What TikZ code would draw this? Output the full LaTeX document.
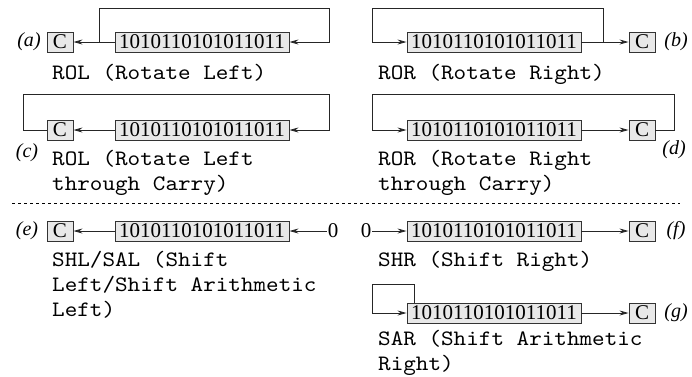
\documentclass[tikz,border=0pt]{standalone}
\usepackage{fontspec}
\setmainfont{Liberation Serif}
\newfontfamily\codefont[FakeStretch=1.09]{lmmono10-regular.otf}
\usetikzlibrary{arrows.meta}

\begin{document}
\begin{tikzpicture}[x=1pt,y=-1pt,
  reg/.style={draw=black!80, fill=black!9, line width=0.9pt,
    minimum width=174pt, minimum height=20pt, inner sep=0pt,
    font=\fontsize{21}{21}\selectfont},
  cbox/.style={reg, minimum width=26pt},
  tag/.style={inner sep=0pt, font=\fontsize{20}{20}\selectfont\itshape},
  zero/.style={inner sep=1pt, font=\fontsize{21}{21}\selectfont},
  % multi-line labels: the base anchor sits on the last line
  lbl/.style={inner sep=0pt, anchor=base west, align=left,
    font=\fontsize{22}{25}\selectfont\codefont},
  wire/.style={line width=0.9pt, draw=black!85},
  flow/.style={wire, -{Stealth[length=9pt,width=5pt]}},
  sep/.style={line width=0.7pt, dash pattern=on 3pt off 3pt},
]
\useasboundingbox (0,0) rectangle (692,376);

% ---- (a) ROL ----
\node[tag]  (ta) at (29,42)  {(a)};
\node[cbox] (ca) at (60,42)  {C};
\node[reg]  (ra) at (202,42) {1010110101011011};
\coordinate (aj)  at (99,42);
\coordinate (atr) at (329,8);
\draw[flow] (ra.west) -- (ca.east);
\draw[flow] (aj) |- (atr) |- (ra.east);
\node[lbl] (la) at (52,79) {ROL (Rotate Left)};

% ---- (b) ROR ----
\node[reg]  (rb) at (494,42) {1010110101011011};
\node[cbox] (cb) at (642,42) {C};
\node[tag]  (tb) at (676,42) {(b)};
\coordinate (bj)  at (603,42);
\coordinate (btl) at (372,8);
\draw[flow] (rb.east) -- (cb.west);
\draw[flow] (bj) |- (btl) |- (rb.west);
\node[lbl] (lb) at (378,79) {ROR (Rotate Right)};

% ---- (c) RCL ----
\node[cbox] (cc) at (60,130)  {C};
\node[reg]  (rc) at (202,130) {1010110101011011};
\node[tag]  (tc) at (27,153)  {(c)};
\coordinate (ctl) at (23,94);
\coordinate (ctr) at (329,94);
\draw[flow] (rc.west) -- (cc.east);
\draw[flow] (cc.west) -| (ctl) -- (ctr) |- (rc.east);
\node[lbl] (lc) at (52,190) {ROL (Rotate Left\\through Carry)};

% ---- (d) RCR ----
\node[reg]  (rd) at (494,130) {1010110101011011};
\node[cbox] (cd) at (642,130) {C};
\node[tag]  (td) at (674,150) {(d)};
\coordinate (dtr) at (674,94);
\coordinate (dtl) at (372,94);
\draw[flow] (rd.east) -- (cd.west);
\draw[flow] (cd.east) -| (dtr) -- (dtl) |- (rd.west);
\node[lbl] (ld) at (378,190) {ROR (Rotate Right\\through Carry)};

% ---- separator ----
\coordinate (sl) at (12,203);
\coordinate (sr) at (680,203);
\draw[sep] (sl) -- (sr);

% ---- (e) SHL/SAL ----
\node[tag]  (te) at (27,231)  {(e)};
\node[cbox] (ce) at (60,231)  {C};
\node[reg]  (re) at (202,231) {1010110101011011};
\node[zero] (ze) at (333,231) {0};
\draw[flow] (re.west) -- (ce.east);
\draw[flow] (ze.west) -- (re.east);
\node[lbl] (le) at (52,316) {SHL/SAL (Shift\\Left/Shift Arithmetic\\Left)};

% ---- (f) SHR ----
\node[zero] (zf) at (366,231) {0};
\node[reg]  (rf) at (494,231) {1010110101011011};
\node[cbox] (cf) at (642,231) {C};
\node[tag]  (tf) at (676,231) {(f)};
\draw[flow] (zf.east) -- (rf.west);
\draw[flow] (rf.east) -- (cf.west);
\node[lbl] (lf) at (378,266) {SHR (Shift Right)};

% ---- (g) SAR ----
\node[reg]  (rg) at (494,313) {1010110101011011};
\node[cbox] (cg) at (642,313) {C};
\node[tag]  (tg) at (676,313) {(g)};
\coordinate (gj)  at (414,303);
\coordinate (gtl) at (372,284);
\draw[flow] (rg.east) -- (cg.west);
\draw[flow] (gj) |- (gtl) |- (rg.west);
\node[lbl] (lg) at (378,370) {SAR (Shift Arithmetic\\Right)};
\end{tikzpicture}
\end{document}
